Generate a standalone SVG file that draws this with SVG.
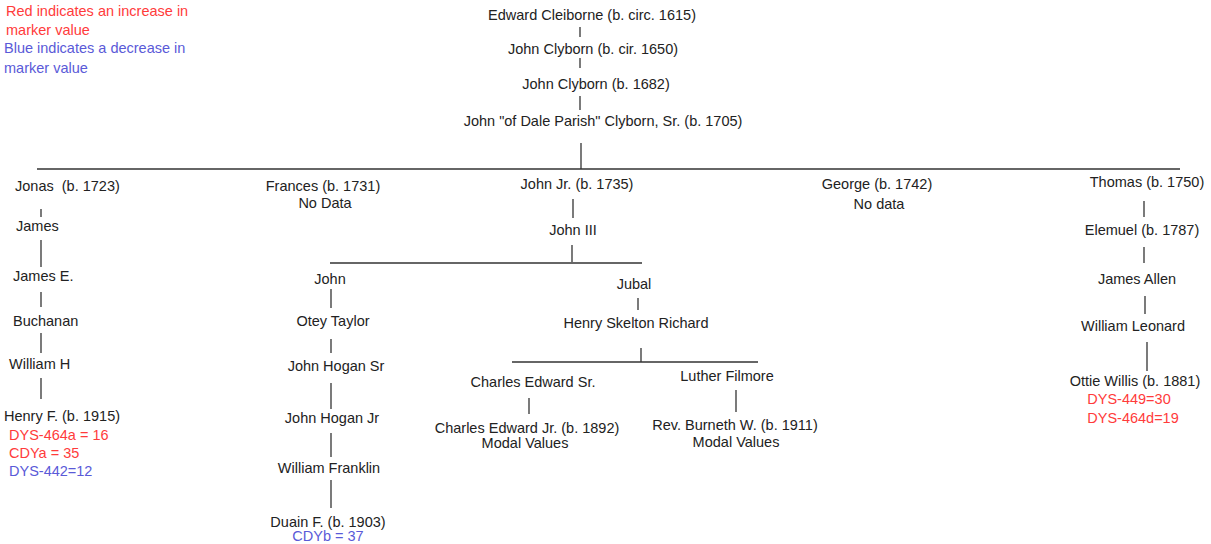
<svg xmlns="http://www.w3.org/2000/svg" width="1211" height="544" viewBox="0 0 1211 544">
<style>
text{font-family:"Liberation Sans",Arial,sans-serif;font-size:14.5px;fill:#222}
.m{text-anchor:middle}
.r{fill:#ff3b3b}
.b{fill:#5a5ad8}
.c line{stroke:#333;stroke-width:1.3}
</style>
<rect width="1211" height="544" fill="#fff"/>
<g id="legend">
<text x="6" y="16" class="r">Red indicates an increase in</text>
<text x="6" y="35" class="r">marker value</text>
<text x="4" y="53" class="b">Blue indicates a decrease in</text>
<text x="4" y="73" class="b">marker value</text>
</g>
<g class="c" id="connectors">
<line x1="580" y1="27" x2="580" y2="37"/>
<line x1="580" y1="58" x2="580" y2="68"/>
<line x1="580" y1="96" x2="580" y2="110"/>
<line x1="581" y1="143" x2="581" y2="169"/>
<line x1="37" y1="169" x2="1180" y2="169"/>
<line x1="41" y1="209" x2="41" y2="217"/>
<line x1="41" y1="240" x2="41" y2="267"/>
<line x1="41" y1="292" x2="41" y2="307"/>
<line x1="41" y1="333" x2="41" y2="353"/>
<line x1="41" y1="378" x2="41" y2="399"/>
<line x1="573" y1="199" x2="573" y2="218"/>
<line x1="572" y1="245" x2="572" y2="262"/>
<line x1="330" y1="263" x2="642" y2="263"/>
<line x1="331" y1="289" x2="331" y2="308"/>
<line x1="331" y1="339" x2="331" y2="353"/>
<line x1="331" y1="383" x2="331" y2="409"/>
<line x1="331" y1="433" x2="331" y2="457"/>
<line x1="331" y1="480" x2="331" y2="508"/>
<line x1="638" y1="298" x2="638" y2="310"/>
<line x1="641" y1="348" x2="641" y2="362"/>
<line x1="512" y1="362" x2="758" y2="362"/>
<line x1="529" y1="398" x2="529" y2="414"/>
<line x1="736" y1="390" x2="736" y2="412"/>
<line x1="1144" y1="201" x2="1144" y2="217"/>
<line x1="1144" y1="247" x2="1144" y2="263"/>
<line x1="1145" y1="296" x2="1145" y2="314"/>
<line x1="1147" y1="342" x2="1147" y2="371"/>
</g>
<g id="n-edward"><text x="592" y="20" class="m">Edward Cleiborne (b. circ. 1615)</text></g>
<g id="n-john1650"><text x="593" y="54" class="m">John Clyborn (b. cir. 1650)</text></g>
<g id="n-john1682"><text x="596" y="89" class="m">John Clyborn (b. 1682)</text></g>
<g id="n-john1705"><text x="603" y="126" class="m">John "of Dale Parish" Clyborn, Sr. (b. 1705)</text></g>
<g id="n-jonas"><text x="15" y="191">Jonas&#160; (b. 1723)</text></g>
<g id="n-james"><text x="16" y="231">James</text></g>
<g id="n-jamese"><text x="13" y="281">James E.</text></g>
<g id="n-buchanan"><text x="13" y="326">Buchanan</text></g>
<g id="n-williamh"><text x="9" y="369">William H</text></g>
<g id="n-henryf">
<text x="4" y="421">Henry F. (b. 1915)</text>
<text x="9" y="440" class="r">DYS-464a = 16</text>
<text x="9" y="458" class="r">CDYa = 35</text>
<text x="9" y="476" class="b">DYS-442=12</text>
</g>
<g id="n-frances"><text x="323" y="191" class="m">Frances (b. 1731)</text><text x="325" y="208" class="m">No Data</text></g>
<g id="n-johnjr"><text x="577" y="189" class="m">John Jr. (b. 1735)</text></g>
<g id="n-john3"><text x="573" y="235" class="m">John III</text></g>
<g id="n-john"><text x="330" y="284" class="m">John</text></g>
<g id="n-otey"><text x="333" y="326" class="m">Otey Taylor</text></g>
<g id="n-jhsr"><text x="336" y="371" class="m">John Hogan Sr</text></g>
<g id="n-jhjr"><text x="332" y="423" class="m">John Hogan Jr</text></g>
<g id="n-wf"><text x="329" y="473" class="m">William Franklin</text></g>
<g id="n-duain"><text x="328" y="527" class="m">Duain F. (b. 1903)</text><text x="328" y="541" class="m b">CDYb = 37</text></g>
<g id="n-jubal"><text x="634" y="289" class="m">Jubal</text></g>
<g id="n-hsr"><text x="636" y="328" class="m">Henry Skelton Richard</text></g>
<g id="n-cesr"><text x="533" y="387" class="m">Charles Edward Sr.</text></g>
<g id="n-cejr"><text x="527" y="433" class="m">Charles Edward Jr. (b. 1892)</text><text x="525" y="448" class="m">Modal Values</text></g>
<g id="n-luther"><text x="727" y="381" class="m">Luther Filmore</text></g>
<g id="n-rev"><text x="735" y="430" class="m">Rev. Burneth W. (b. 1911)</text><text x="736" y="447" class="m">Modal Values</text></g>
<g id="n-george"><text x="877" y="189" class="m">George (b. 1742)</text><text x="879" y="209" class="m">No data</text></g>
<g id="n-thomas"><text x="1147" y="187" class="m">Thomas (b. 1750)</text></g>
<g id="n-elemuel"><text x="1142" y="235" class="m">Elemuel (b. 1787)</text></g>
<g id="n-jallen"><text x="1137" y="284" class="m">James Allen</text></g>
<g id="n-wleonard"><text x="1133" y="331" class="m">William Leonard</text></g>
<g id="n-ottie">
<text x="1135" y="386" class="m">Ottie Willis (b. 1881)</text>
<text x="1129" y="404" class="m r">DYS-449=30</text>
<text x="1133" y="423" class="m r">DYS-464d=19</text>
</g>
</svg>
